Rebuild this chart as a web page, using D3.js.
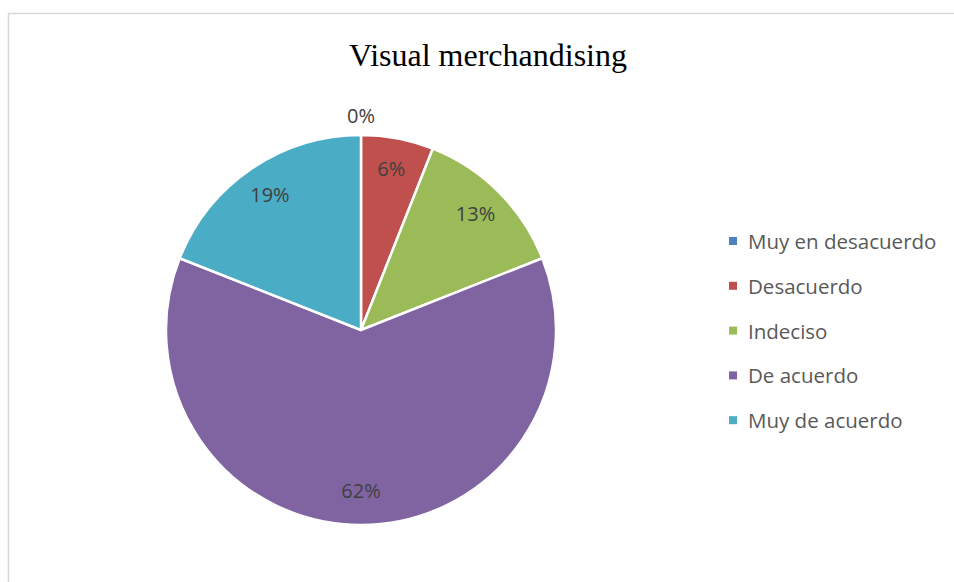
<!DOCTYPE html>
<html>
<head>
<meta charset="utf-8">
<script src="https://cdn.jsdelivr.net/npm/d3@7"></script>
<style>
  html, body { margin: 0; padding: 0; background: #fff; }
  svg { display: block; }
</style>
</head>
<body>
<svg id="chart" width="954" height="582"></svg>
<script>
// Survey answers for "Visual merchandising" (percent of respondents)
const categories = ["Muy en desacuerdo", "Desacuerdo", "Indeciso", "De acuerdo", "Muy de acuerdo"];
const values = [0, 6, 13, 62, 19];
const colors = ["#4f81bd", "#c0504d", "#9bbb59", "#8064a2", "#4bacc6"];
const title = "Visual merchandising";

const svg = d3.select("#chart");
const W = 954, H = 582;

// chart area frame
svg.append("rect")
  .attr("x", 8.5).attr("y", 13.5)
  .attr("width", W + 10).attr("height", H + 10)
  .attr("fill", "#fff")
  .attr("stroke", "#d9d9d9").attr("stroke-width", 1.5);

svg.append("text")
  .attr("x", 488).attr("y", 66)
  .attr("text-anchor", "middle")
  .attr("font-family", "'Liberation Serif', 'Times New Roman', serif")
  .attr("font-size", 32)
  .attr("fill", "#000")
  .text(title);

const cx = 361, cy = 330, R = 195;
const data = categories.map((c, i) => ({ name: c, value: values[i], color: colors[i] }));

const pie = d3.pie().value(d => d.value).sort(null);
const arcs = pie(data);
const arc = d3.arc().innerRadius(0).outerRadius(R);

const g = svg.append("g").attr("transform", `translate(${cx},${cy})`);

g.selectAll("path.slice")
  .data(arcs)
  .join("path")
  .attr("class", "slice")
  .attr("d", arc)
  .attr("fill", d => d.data.color)
  .attr("stroke", "#fff")
  .attr("stroke-width", 2.5)
  .attr("stroke-linejoin", "round");

// percentage labels: inside for real slices, just outside the rim for empty ones
const labelArc = d3.arc().innerRadius(162).outerRadius(162);
const outerArc = d3.arc().innerRadius(213).outerRadius(213);
const fmt = d3.format(".0%");
const total = d3.sum(values);

g.selectAll("text.pct")
  .data(arcs)
  .join("text")
  .attr("class", "pct")
  .attr("transform", d => {
    const p = (d.data.value === 0 ? outerArc : labelArc).centroid(d);
    return `translate(${p[0]},${p[1] - 2})`;
  })
  .attr("text-anchor", "middle")
  .attr("dominant-baseline", "central")
  .attr("font-family", "'Open Sans', 'Noto Sans', sans-serif")
  .attr("font-size", 20)
  .attr("fill", "#404040")
  .text(d => fmt(d.data.value / total));

// legend
const legend = svg.append("g").attr("transform", "translate(729,241)");
const rowStep = 44.8;
const items = legend.selectAll("g.item")
  .data(data)
  .join("g")
  .attr("class", "item")
  .attr("transform", (d, i) => `translate(0,${i * rowStep})`);

items.append("rect")
  .attr("x", 0).attr("y", -4)
  .attr("width", 8).attr("height", 8)
  .attr("fill", d => d.color);

items.append("text")
  .attr("x", 19).attr("y", 0)
  .attr("dominant-baseline", "central")
  .attr("font-family", "'Open Sans', 'Noto Sans', sans-serif")
  .attr("font-size", 20.5)
  .attr("fill", "#595959")
  .text(d => d.name);
</script>
</body>
</html>
